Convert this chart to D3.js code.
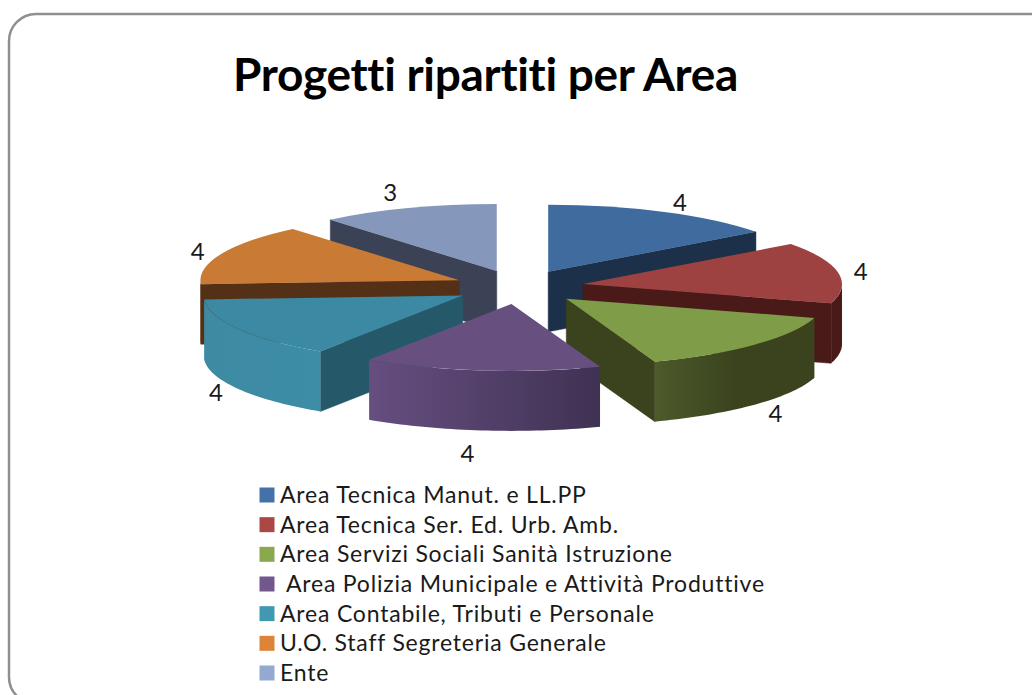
<!DOCTYPE html>
<html>
<head>
<meta charset="utf-8">
<script src="https://cdn.jsdelivr.net/npm/d3@7"></script>
<style>
html,body{margin:0;padding:0;background:#fff;overflow:hidden}
svg{display:block}
text{font-family:Lato,"Liberation Sans",sans-serif;fill:#1a1a1a;font-variant-ligatures:none}
</style>
</head>
<body>
<svg id="chart" width="1032" height="695"></svg>
<script>
const chartTitle = "Progetti ripartiti per Area";
const categories = ["Area Tecnica Manut. e LL.PP","Area Tecnica Ser. Ed. Urb. Amb.","Area Servizi Sociali Sanità Istruzione"," Area Polizia Municipale e Attività Produttive","Area Contabile, Tributi e Personale","U.O. Staff Segreteria Generale","Ente"];
const values = [4,4,4,4,4,4,3];
const topColors  = ["#3f6b9e","#9d4240","#7f9d48","#674f80","#3c89a3","#c97b35","#8598bc"];
const wallColors = ["#1c304a","#4a1a18","#3a431e","#3f3253","#25596a","#543016","#3b4256"];
const sideStart  = ["#1c304a","#4a1a18","#4d5a29","#664e80","#3d8aa3","#543016","#3b4256"];
const sideEnd    = ["#1c304a","#4a1a18","#3a431e","#3f3253","#3d8da6","#543016","#3b4256"];
const legendColors = ["#4372a8","#ab4845","#8aa94f","#72588f","#4198b3","#dd8439","#93a9cf"];
// label fine placement [dx, dy]
const labelNudge = [[4,-1],[-3,0],[2,0],[-11,11],[0,-3],[0,1],[-9,-6]];

const cx = 519, cy = 287, rx = 259, ry = 67, depth = 60, explodeX = 65, explodeY = 17;
const svg = d3.select("#chart");
const defs = svg.append("defs");

svg.append("rect").attr("x",9).attr("y",14).attr("width",1120).attr("height",690).attr("rx",27)
   .attr("fill","#fff").attr("stroke","#8f8f8f").attr("stroke-width",2.5);

svg.append("text").attr("x",233).attr("y",91).attr("font-size",46).attr("font-weight",700)
   .attr("letter-spacing",-0.3).style("fill","#000").text(chartTitle);

const pie = d3.pie().sort(null).value(d => d);
const arcs = pie(values).map((a,i) => {
  const mid = (a.startAngle + a.endAngle) / 2;
  return {...a, i, mid,
    ax: cx + explodeX * Math.sin(mid),
    ay: cy - explodeY * Math.cos(mid)};
});
const unitArc = d3.arc().innerRadius(0).outerRadius(1);
const rim = (s,a) => [s.ax + rx*Math.sin(a), s.ay - ry*Math.cos(a)];
const line = d3.line();

const order = arcs.slice().sort((p,q) => d3.descending(Math.cos(p.mid), Math.cos(q.mid)));
const layer = svg.append("g");

order.forEach(s => {
  const g = layer.append("g");
  const wall = a => {
    const [x,y] = rim(s,a);
    g.append("path").attr("d", line([[s.ax,s.ay],[x,y],[x,y+depth],[s.ax,s.ay+depth]])+"Z")
      .attr("fill", wallColors[s.i]).attr("stroke", wallColors[s.i]).attr("stroke-width",.5);
  };
  if (Math.sin(s.startAngle) < -1e-6) wall(s.startAngle);
  if (Math.sin(s.endAngle) > 1e-6) wall(s.endAngle);

  const a0 = Math.max(s.startAngle, Math.PI/2), a1 = Math.min(s.endAngle, 3*Math.PI/2);
  if (a1 > a0) {
    const id = "side"+s.i;
    const gr = defs.append("linearGradient").attr("id",id).attr("x1",0).attr("x2",1).attr("y1",0).attr("y2",0);
    gr.append("stop").attr("offset",0).attr("stop-color",sideStart[s.i]);
    gr.append("stop").attr("offset",s.i === 2 ? .5 : 1).attr("stop-color",sideEnd[s.i]);
    const n = 40;
    const ang = d3.range(n+1).map(k => a0 + (a1-a0)*k/n);
    const upper = ang.map(a => rim(s,a));
    const lower = ang.slice().reverse().map(a => { const [x,y]=rim(s,a); return [x,y+depth]; });
    g.append("path").attr("d", line(upper.concat(lower))+"Z").attr("fill",`url(#${id})`);
  }
  g.append("path").attr("d", unitArc(s))
    .attr("transform",`translate(${s.ax},${s.ay}) scale(${rx},${ry})`)
    .attr("fill", topColors[s.i]);
});

// data labels
arcs.forEach(s => {
  const front = Math.cos(s.mid) < 0 ? depth : 0;
  const [dx,dy] = labelNudge[s.i];
  svg.append("text").attr("text-anchor","middle").attr("dominant-baseline","central")
    .attr("font-size",24)
    .attr("x", cx + 350*Math.sin(s.mid) + dx)
    .attr("y", cy + front - 95*Math.cos(s.mid) + dy)
    .text(values[s.i]);
});

// legend
const legendY = d3.scalePoint().domain(d3.range(categories.length)).range([495,673]);
const lg = svg.append("g");
categories.forEach((c,i) => {
  lg.append("rect").attr("x",259.5).attr("y",legendY(i)-7.5).attr("width",15).attr("height",15)
    .attr("fill",legendColors[i]);
  lg.append("text").attr("x",280).attr("y",legendY(i)+8).attr("font-size",23)
    .attr("letter-spacing",0.8).style("white-space","pre").text(c);
});
</script>
</body>
</html>
